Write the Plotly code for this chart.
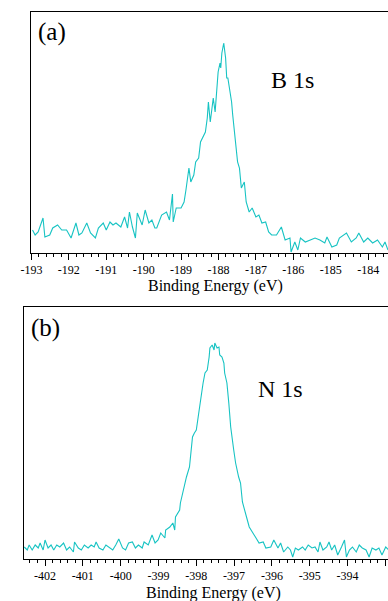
import plotly.graph_objects as go

# ---- Panel (a): B 1s ----
b1s_energy = [
    -192.97, -192.90, -192.82, -192.69, -192.64, -192.51, -192.43, -192.30, -192.19, -192.06,
    -191.94, -191.81, -191.73, -191.65, -191.52, -191.42, -191.29, -191.21, -191.08, -191.00,
    -190.90, -190.82, -190.74, -190.61, -190.51, -190.43, -190.38, -190.30, -190.22, -190.17,
    -190.04, -189.96, -189.86, -189.78, -189.70, -189.65, -189.52, -189.39, -189.31, -189.23,
    -189.21, -189.13, -189.00, -188.92, -188.87, -188.79, -188.74, -188.66, -188.61, -188.53,
    -188.48, -188.43, -188.40, -188.35, -188.30, -188.27, -188.22, -188.17, -188.14, -188.09,
    -188.04, -188.01, -187.96, -187.94, -187.91, -187.86, -187.81, -187.78, -187.75, -187.70,
    -187.65, -187.62, -187.57, -187.52, -187.49, -187.44, -187.39, -187.31, -187.26, -187.18,
    -187.10, -187.00, -186.92, -186.84, -186.74, -186.66, -186.58, -186.45, -186.32, -186.22,
    -186.09, -186.06, -185.96, -185.88, -185.81, -185.68, -185.55, -185.42, -185.29, -185.16,
    -185.10, -184.97, -184.84, -184.77, -184.58, -184.45, -184.32, -184.25, -184.12, -184.01,
    -183.88, -183.75, -183.62, -183.55, -183.47,
]
b1s_intensity = [
    23, 18, 21, 35, 16, 18, 25, 28, 23, 23,
    15, 30, 18, 20, 30, 20, 15, 25, 30, 23,
    31, 28, 30, 26, 36, 25, 41, 26, 15, 40,
    28, 43, 30, 33, 25, 25, 38, 41, 33, 59,
    31, 45, 45, 51, 63, 85, 71, 78, 91, 95,
    111, 115, 118, 121, 135, 151, 131, 151, 155, 141,
    165, 181, 190, 185, 200, 210, 195, 175, 175, 165,
    151, 138, 121, 101, 91, 85, 65, 71, 51, 41,
    45, 36, 38, 30, 31, 21, 18, 18, 26, 13,
    15, 1, 11, 3, 15, 11, 13, 15, 13, 10,
    16, 6, 8, 15, 20, 11, 15, 20, 11, 15,
    10, 13, 6, 11, 3,
]
b1s_ticks = [-193, -192, -191, -190, -189, -188, -187, -186, -185, -184]
b1s_ticktext = ["-193", "-192", "-191", "-190", "-189", "-188", "-187", "-186", "-185", "-184"]

# ---- Panel (b): N 1s ----
n1s_energy = [
    -402.55, -402.47, -402.42, -402.34, -402.26, -402.18, -402.13, -402.05, -402.00, -401.92,
    -401.84, -401.77, -401.69, -401.61, -401.51, -401.43, -401.35, -401.25, -401.22, -401.12,
    -401.04, -400.96, -400.86, -400.78, -400.70, -400.65, -400.57, -400.47, -400.39, -400.31,
    -400.21, -400.13, -400.05, -399.95, -399.87, -399.79, -399.69, -399.61, -399.53, -399.43,
    -399.38, -399.27, -399.17, -399.09, -399.01, -398.94, -398.83, -398.81, -398.70, -398.62,
    -398.57, -398.55, -398.44, -398.42, -398.36, -398.31, -398.26, -398.18, -398.16, -398.10,
    -398.05, -398.00, -397.95, -397.90, -397.82, -397.77, -397.71, -397.66, -397.64, -397.58,
    -397.53, -397.51, -397.45, -397.40, -397.38, -397.32, -397.27, -397.25, -397.19, -397.14,
    -397.09, -397.01, -396.96, -396.88, -396.83, -396.78, -396.73, -396.65, -396.60, -396.49,
    -396.42, -396.34, -396.23, -396.16, -396.08, -396.03, -395.95, -395.84, -395.77, -395.69,
    -395.58, -395.51, -395.45, -395.38, -395.30, -395.19, -395.12, -395.04, -394.94, -394.86,
    -394.78, -394.73, -394.65, -394.55, -394.49, -394.42, -394.34, -394.26, -394.16, -394.08,
    -394.03, -393.95, -393.87, -393.77, -393.69, -393.61, -393.51, -393.43, -393.35, -393.25,
    -393.17, -393.09, -392.99, -392.91, -392.83,
]
n1s_intensity = [
    12, 9, 14, 9, 14, 11, 16, 9, 19, 11,
    14, 9, 14, 12, 16, 9, 12, 7, 17, 11,
    9, 14, 11, 14, 12, 17, 11, 9, 14, 12,
    9, 14, 20, 11, 9, 16, 17, 11, 14, 11,
    17, 14, 24, 16, 19, 26, 21, 29, 32, 36,
    29, 42, 49, 56, 66, 72, 82, 92, 102, 122,
    126, 129, 142, 156, 176, 186, 189, 202, 211, 214,
    209, 216, 211, 212, 204, 202, 196, 186, 176, 156,
    132, 109, 96, 82, 76, 57, 49, 39, 32, 26,
    21, 16, 17, 11, 12, 12, 19, 11, 16, 7,
    12, 9, 2, 11, 9, 12, 9, 14, 11, 12,
    7, 17, 9, 12, 17, 9, 14, 4, 12, 19,
    2, 9, 12, 7, 14, 11, 9, 2, 11, 9,
    11, 4, 12, 9, 11,
]
n1s_ticks = [-402, -401, -400, -399, -398, -397, -396, -395, -394, -393]
n1s_ticktext = ["-402", "-401", "-400", "-399", "-398", "-397", "-396", "-395", "-394", "-393"]

panel_labels = ["(a)", "(b)"]
peak_labels = ["B 1s", "N 1s"]
axis_title = "Binding Energy (eV)"

W, H = 388, 601
LINE = "#17c3c3"
FONT = "Liberation Serif"

fig = go.Figure()
fig.add_trace(go.Scatter(x=b1s_energy, y=b1s_intensity, mode="lines",
                         line=dict(color=LINE, width=1.1), xaxis="x", yaxis="y",
                         showlegend=False))
fig.add_trace(go.Scatter(x=n1s_energy, y=n1s_intensity, mode="lines",
                         line=dict(color=LINE, width=1.1), xaxis="x2", yaxis="y2",
                         showlegend=False))

def xax(domain, rng, anchor, tv, tt):
    return dict(domain=domain, range=rng, anchor=anchor, showline=True, mirror=True,
                linecolor="black", linewidth=1, showgrid=False, zeroline=False,
                ticks="outside", ticklen=6, tickwidth=1, tickcolor="black",
                tickmode="array", tickvals=tv, ticktext=tt,
                tickfont=dict(family=FONT, size=12, color="black"),
                minor=dict(dtick=0.2, tick0=0, ticks="outside", ticklen=3, tickwidth=1,
                           tickcolor="black", showgrid=False))

def yax(domain, rng, anchor):
    return dict(domain=domain, range=rng, anchor=anchor, showline=True, mirror=False,
                linecolor="black", linewidth=1, showgrid=False, zeroline=False,
                showticklabels=False, ticks="")

fig.update_layout(
    width=W, height=H, margin=dict(l=0, r=0, t=0, b=0),
    paper_bgcolor="white", plot_bgcolor="white", showlegend=False,
    xaxis=xax([21 / W, 1], [-193, -183.47], "y", b1s_ticks, b1s_ticktext),
    yaxis=yax([1 - 253 / H, 1 - 11.7 / H], [0, 241.3], "x"),
    xaxis2=xax([13 / W, 1], [-402.566, -392.93], "y2", n1s_ticks, n1s_ticktext),
    yaxis2=yax([1 - 559 / H, 1 - 307 / H], [0, 252], "x2"),
)

def ann(text, px, py, size):
    fig.add_annotation(text=text, x=px / W, y=1 - py / H, xref="paper", yref="paper",
                       xanchor="center", yanchor="middle", showarrow=False,
                       font=dict(family=FONT, size=size, color="black"))

ann(panel_labels[0], 42, 32, 25)
ann(peak_labels[0], 290, 80, 24)
ann(axis_title, 210, 286, 16)
ann(panel_labels[1], 36, 328, 25)
ann(peak_labels[1], 277, 389, 24)
ann(axis_title, 208, 593, 16)

fig.write_html(
    "out.html",
    config={"displayModeBar": False},
    post_script=(
        "document.body.style.margin='0';"
        "document.body.style.overflow='hidden';"
        "document.documentElement.style.overflow='hidden';"
    ),
)
